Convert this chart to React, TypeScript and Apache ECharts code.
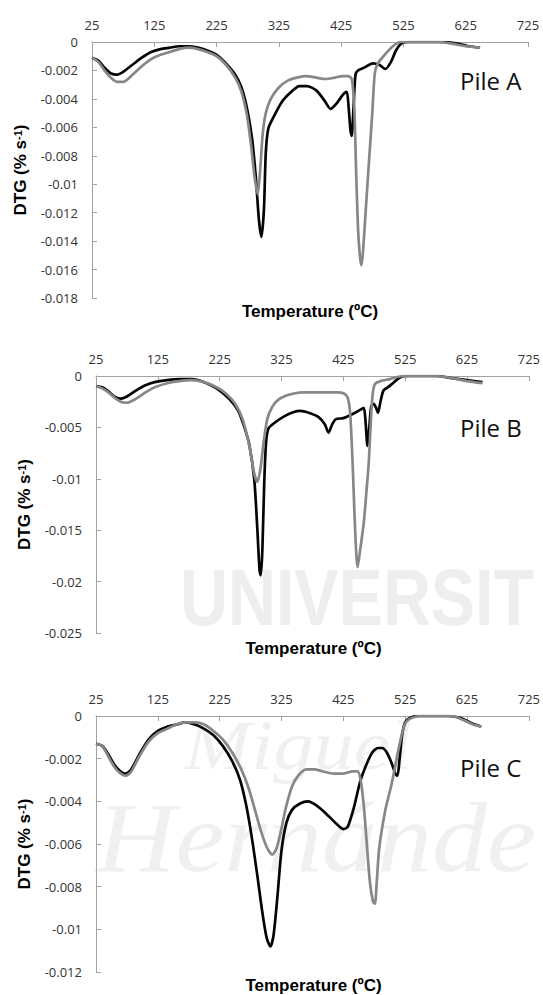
import React, { useEffect, useRef } from "react";
import * as echarts from "echarts";

// Temperature axis (ºC)
const tempMin = 25;
const tempMax = 725;
const tempStep = 100;

// DTG value axes (% s-1) for each pile: [min, max, step]
const pileAAxis = [-0.018, 0, 0.002];
const pileBAxis = [-0.025, 0, 0.005];
const pileCAxis = [-0.012, 0, 0.002];

const pileNames = ["Pile A", "Pile B", "Pile C"];

// [temperature, DTG] pairs
const pileABlack = [
  [25, -0.0011], [35, -0.0013], [45, -0.0018], [55, -0.0022], [65, -0.0023], [75, -0.0021],
  [90, -0.0016], [105, -0.0011], [120, -0.0007], [135, -0.0005], [150, -0.0004], [165, -0.0003],
  [180, -0.0003], [195, -0.0004], [210, -0.0006], [225, -0.0009], [240, -0.0015], [255, -0.0023],
  [265, -0.0032], [274, -0.0047], [282, -0.0068], [288, -0.0095], [293, -0.0125], [297, -0.0137],
  [301, -0.0118], [304, -0.0078], [308, -0.0061], [315, -0.0054], [330, -0.0042], [345, -0.0035],
  [358, -0.0031], [370, -0.0031], [385, -0.0034], [398, -0.0041], [408, -0.0047], [418, -0.0043],
  [428, -0.0037], [434, -0.0035], [437, -0.0046], [440, -0.0062], [442, -0.0066], [445, -0.0045],
  [448, -0.0023], [452, -0.0020], [462, -0.0018], [476, -0.0015], [486, -0.0016], [496, -0.0019],
  [505, -0.0014], [513, -0.0006], [522, -0.0001], [535, 0], [560, 0], [590, 0], [610, -0.0001],
  [630, -0.0003], [648, -0.0004],
];
const pileAGray = [
  [25, -0.0011], [35, -0.0014], [45, -0.0020], [55, -0.0025], [65, -0.0028], [75, -0.0028],
  [90, -0.0023], [105, -0.0017], [120, -0.0012], [135, -0.0009], [150, -0.0007], [165, -0.0005],
  [180, -0.0004], [195, -0.0005], [210, -0.0007], [225, -0.0010], [240, -0.0016], [255, -0.0025],
  [265, -0.0035], [274, -0.0052], [281, -0.0075], [286, -0.0095], [291, -0.0107], [295, -0.0090],
  [299, -0.0065], [304, -0.0050], [312, -0.0040], [325, -0.0032], [340, -0.0027], [355, -0.0025],
  [368, -0.0024], [385, -0.0025], [400, -0.0026], [415, -0.0025], [428, -0.0024], [436, -0.0024],
  [442, -0.0026], [446, -0.0045], [449, -0.0090], [452, -0.0130], [455, -0.0150], [457.5, -0.0157],
  [460, -0.0148], [465, -0.0115], [470, -0.0082], [475, -0.0050], [479, -0.0022], [484, -0.0015],
  [495, -0.0009], [508, -0.0003], [520, 0], [550, 0], [580, 0], [600, -0.0001], [625, -0.0003],
  [648, -0.0004],
];

const pileBBlack = [
  [25, -0.0010], [35, -0.0011], [45, -0.0015], [55, -0.0020], [65, -0.0022], [75, -0.0020],
  [90, -0.0014], [105, -0.0009], [120, -0.0006], [140, -0.0004], [160, -0.0003], [180, -0.0003],
  [200, -0.0006], [220, -0.0012], [240, -0.0022], [255, -0.0034], [265, -0.0050], [273, -0.0067],
  [281, -0.0101], [286, -0.0150], [289.5, -0.0189], [291.5, -0.0194], [294, -0.0170], [297, -0.0105],
  [300, -0.0065], [304, -0.0051], [315, -0.0045], [330, -0.0039], [345, -0.0035], [355, -0.0034],
  [370, -0.0036], [385, -0.0040], [395, -0.0047], [401, -0.0055], [407, -0.0047], [413, -0.0042],
  [425, -0.0041], [440, -0.0037], [452, -0.0033], [458, -0.0031], [461, -0.0045], [464, -0.0068],
  [467, -0.0050], [470, -0.0030], [474, -0.0027], [478, -0.0031], [481, -0.0036], [485, -0.0025],
  [490, -0.0014], [497, -0.0011], [505, -0.0007], [515, -0.0002], [525, 0], [550, 0], [575, 0],
  [600, -0.0002], [625, -0.0004], [650, -0.0006],
];
const pileBGray = [
  [25, -0.0010], [35, -0.0012], [45, -0.0016], [55, -0.0021], [65, -0.0025], [75, -0.0026],
  [90, -0.0022], [105, -0.0016], [120, -0.0011], [140, -0.0007], [160, -0.0005], [180, -0.0004],
  [200, -0.0006], [220, -0.0011], [235, -0.0017], [250, -0.0027], [262, -0.0042], [273, -0.0068],
  [281, -0.0095], [286, -0.0103], [291, -0.0090], [296, -0.0065], [302, -0.0042], [310, -0.0030],
  [320, -0.0023], [333, -0.0019], [345, -0.0017], [360, -0.0016], [390, -0.0016], [415, -0.0016],
  [426, -0.0017], [432, -0.0021], [436, -0.0036], [440, -0.0085], [443, -0.0134], [446, -0.0174],
  [448, -0.0186], [452, -0.0170], [458, -0.0143], [462, -0.0115], [466, -0.0085], [469, -0.0050],
  [472, -0.0020], [476, -0.0008], [485, -0.0005], [500, -0.0003], [512, -0.0001], [525, 0],
  [550, 0], [575, 0], [600, -0.0002], [625, -0.0005], [650, -0.0007],
];

const pileCBlack = [
  [25, -0.0013], [35, -0.0014], [45, -0.0018], [55, -0.0023], [65, -0.0026], [73, -0.0027],
  [82, -0.0025], [95, -0.0018], [110, -0.0011], [125, -0.0007], [140, -0.0005], [155, -0.0004],
  [170, -0.0003], [185, -0.0004], [200, -0.0006], [215, -0.0009], [230, -0.0014], [245, -0.0021],
  [258, -0.0030], [268, -0.0042], [277, -0.0057], [286, -0.0075], [294, -0.0092], [301, -0.0104],
  [307, -0.0108], [312, -0.0103], [318, -0.0086], [325, -0.0063], [333, -0.0050], [342, -0.0044],
  [355, -0.0041], [368, -0.0040], [382, -0.0042], [398, -0.0046], [412, -0.0050], [425, -0.0053],
  [432, -0.0052], [442, -0.0043], [452, -0.0031], [462, -0.0023], [472, -0.0017], [481, -0.0015],
  [488, -0.0015], [495, -0.0017], [503, -0.0022], [509, -0.0027], [512.5, -0.0028], [516, -0.0020],
  [520, -0.0009], [525, -0.0003], [532, -0.0001], [545, 0], [570, 0], [595, 0], [615, -0.0001],
  [630, -0.0003], [648, -0.0005],
];
const pileCGray = [
  [25, -0.0013], [35, -0.0014], [45, -0.0019], [55, -0.0024], [65, -0.0027], [73, -0.0028],
  [82, -0.0026], [95, -0.0019], [110, -0.0012], [125, -0.0008], [140, -0.0006], [155, -0.0004],
  [170, -0.0003], [185, -0.0003], [200, -0.0004], [215, -0.0007], [230, -0.0011], [245, -0.0017],
  [260, -0.0025], [272, -0.0034], [283, -0.0045], [293, -0.0055], [302, -0.0062], [310, -0.0065],
  [317, -0.0062], [324, -0.0054], [332, -0.0043], [342, -0.0033], [352, -0.0028], [365, -0.0025],
  [378, -0.0025], [392, -0.0026], [410, -0.0027], [425, -0.0027], [440, -0.0026], [448, -0.0026],
  [453, -0.0030], [458, -0.0042], [463, -0.0060], [468, -0.0078], [473, -0.0087], [476, -0.0088],
  [479, -0.0078], [483, -0.0062], [493, -0.0044], [503, -0.0032], [514, -0.0016], [520, -0.0008],
  [526, -0.0003], [535, -0.0001], [550, 0], [575, 0], [600, 0], [620, -0.0002], [635, -0.0004],
  [648, -0.0005],
];

const blackSeries = [pileABlack, pileBBlack, pileCBlack];
const graySeries = [pileAGray, pileBGray, pileCGray];
const valueAxes = [pileAAxis, pileBAxis, pileCAxis];

// Plot areas in pixels
const grids = [
  { left: 92, top: 42, width: 436, height: 256 },
  { left: 96, top: 376, width: 435, height: 257 },
  { left: 96, top: 716, width: 435, height: 256 },
];
const xTitleY = [311, 648, 985];
const pileLabelY = [80.5, 427.5, 767];

const AXIS_GRAY = "#a3a3a3";
const LABEL_COLOR = "#333333";
const LINE_BLACK = "#050505";
const LINE_GRAY = "#878787";

export default function App() {
  const ref = useRef<HTMLDivElement>(null);

  useEffect(() => {
    if (!ref.current) return;
    const chart = echarts.init(ref.current, undefined, { renderer: "svg" });

    const xAxis = grids.map((_, i) => ({
      type: "value",
      gridIndex: i,
      position: "top",
      min: tempMin,
      max: tempMax,
      interval: tempStep,
      axisLine: { show: true, onZero: false, lineStyle: { color: AXIS_GRAY, width: 1 } },
      axisTick: { show: true, inside: true, length: 5, lineStyle: { color: AXIS_GRAY } },
      splitLine: { show: false },
      axisLabel: {
        color: LABEL_COLOR,
        fontFamily: "Open Sans",
        fontSize: 13,
        margin: 11,
      },
    }));

    const yAxis = valueAxes.map((ax, i) => ({
      type: "value",
      gridIndex: i,
      min: ax[0],
      max: ax[1],
      interval: ax[2],
      axisLine: { show: true, onZero: false, lineStyle: { color: AXIS_GRAY, width: 1 } },
      axisTick: { show: true, inside: true, length: 5, lineStyle: { color: AXIS_GRAY } },
      splitLine: { show: false },
      axisLabel: {
        color: LABEL_COLOR,
        fontFamily: "Open Sans",
        fontSize: 13,
        margin: 14,
      },
      name: "{t|DTG (% s}{s|-1}{t|)}",
      nameLocation: "middle",
      nameRotate: 90,
      nameGap: 63,
      nameTextStyle: {
        rich: {
          t: {
            fontFamily: "Liberation Sans",
            fontWeight: "bold",
            fontSize: 17,
            color: "#000",
          },
          s: {
            fontFamily: "Liberation Sans",
            fontWeight: "bold",
            fontSize: 11,
            color: "#000",
            verticalAlign: "top",
          },
        },
      },
    }));

    const series: any[] = [];
    grids.forEach((_, i) => {
      series.push({
        type: "line",
        xAxisIndex: i,
        yAxisIndex: i,
        data: blackSeries[i],
        symbol: "none",
        smooth: 0.25,
        lineStyle: { color: LINE_BLACK, width: 2.7 },
        z: 3,
      });
      series.push({
        type: "line",
        xAxisIndex: i,
        yAxisIndex: i,
        data: graySeries[i],
        symbol: "none",
        smooth: 0.25,
        lineStyle: { color: LINE_GRAY, width: 2.7 },
        z: 4,
      });
    });

    const graphic: any[] = [
      // faint background lettering
      {
        type: "text",
        z: -10,
        x: 180,
        y: 597,
        scaleX: 0.83,
        silent: true,
        style: {
          text: "UNIVERSIT",
          font: "bold 80px 'Liberation Sans'",
          fill: "#eeeeee",
          textVerticalAlign: "middle",
        },
      },
      {
        type: "text",
        z: -10,
        x: 184,
        y: 745,
        scaleX: 1.15,
        silent: true,
        style: {
          text: "Miguel",
          font: "italic 70px 'Liberation Serif'",
          fill: "#f0f0f0",
          textVerticalAlign: "middle",
        },
      },
      {
        type: "text",
        z: -10,
        x: 96,
        y: 837,
        scaleX: 1.1,
        silent: true,
        style: {
          text: "Hernánde",
          font: "italic 100px 'Liberation Serif'",
          fill: "#f0f0f0",
          textVerticalAlign: "middle",
        },
      },
    ];

    grids.forEach((g, i) => {
      graphic.push({
        type: "text",
        x: 460,
        y: pileLabelY[i],
        style: {
          text: pileNames[i],
          font: "24px 'Open Sans'",
          fill: "#111",
          textVerticalAlign: "middle",
        },
      });
      graphic.push({
        type: "text",
        x: g.left + g.width / 2,
        y: xTitleY[i],
        style: {
          text: "Temperature (ºC)",
          font: "bold 17px 'Liberation Sans'",
          fill: "#000",
          textAlign: "center",
          textVerticalAlign: "middle",
        },
      });
    });

    chart.setOption({
      animation: false,
      backgroundColor: "#ffffff",
      grid: grids.map((g) => ({ ...g, containLabel: false })),
      xAxis,
      yAxis,
      series,
      graphic,
    });

    return () => chart.dispose();
  }, []);

  return (
    <div
      ref={ref}
      style={{ position: "fixed", left: 0, top: 0, width: 543, height: 995, background: "#fff" }}
    />
  );
}
